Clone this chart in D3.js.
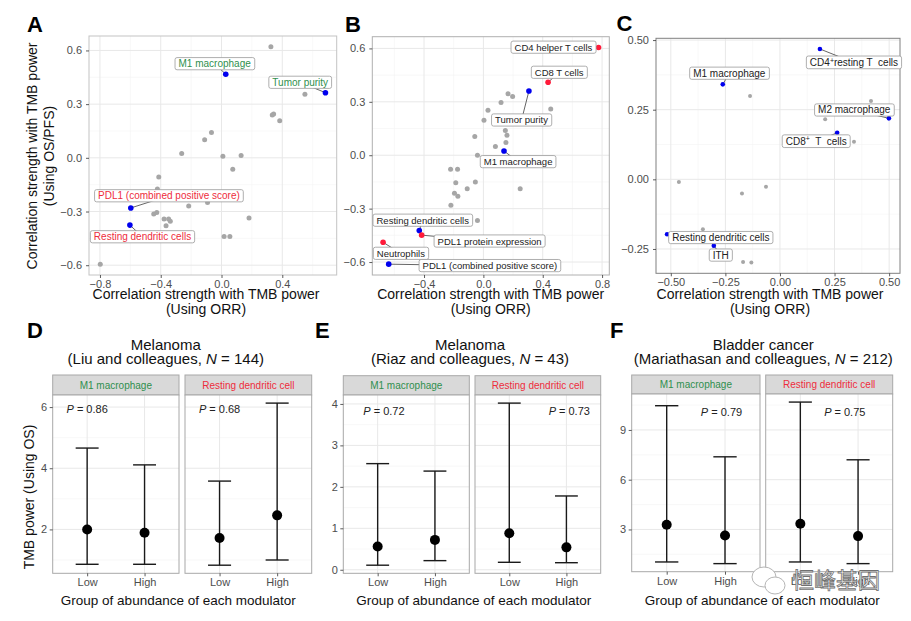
<!DOCTYPE html>
<html><head><meta charset="utf-8">
<script src="https://cdn.jsdelivr.net/npm/d3@7"></script>
<style>
body{margin:0;background:#fff;}
svg text{white-space:pre;}
</style></head><body>
<svg id="fig" width="911" height="621"></svg>
<script>
// ================= DATA =================
// Panel A: correlation (ORR vs OS/PFS)
const aNames = ["", "M1 macrophage", "Tumor purity", "", "", "", "", "", "", "", "", "", "", "", "",
  "PDL1 (combined positive score)", "", "", "", "", "", "", "", "", "Resting dendritic cells", "", "", "", ""];
const aX = [0.325, 0.028, 0.684, 0.549, 0.334, 0.343, 0.383, -0.066, -0.111, -0.262, 0.009, 0.129, 0.074, -0.413, -0.422,
  -0.597, -0.216, -0.092, -0.446, -0.426, -0.378, -0.348, -0.337, -0.365, -0.603, 0.181, 0.017, 0.055, -0.798];
const aY = [0.620, 0.467, 0.364, 0.355, 0.239, 0.245, 0.207, 0.142, 0.101, 0.024, 0.009, 0.013, -0.064, -0.107, -0.174,
  -0.280, -0.269, -0.250, -0.314, -0.305, -0.342, -0.342, -0.355, -0.379, -0.376, -0.336, -0.439, -0.439, -0.594];
const aGroup = aNames.map(n => n ? "blue" : "grey");
const aXTicks = [-0.8, -0.4, 0.0, 0.4];
const aYTicks = [-0.6, -0.3, 0.0, 0.3, 0.6];

// Panel B
const bNames = ["CD4 helper T cells", "CD8 T cells", "Tumor purity", "", "", "", "", "", "", "", "", "", "", "",
  "M1 macrophage", "", "", "", "", "", "", "", "", "", "", "",
  "Resting dendritic cells", "PDL1 protein expression", "Neutrophils", "PDL1 (combined positive score)"];
const bX = [0.776, 0.436, 0.307, 0.166, 0.197, 0.119, 0.031, 0.454, 0.004, 0.148, 0.159, -0.058, 0.152, 0.081,
  0.139, -0.040, -0.221, -0.174, -0.186, -0.054, -0.109, -0.195, -0.172, 0.248, -0.219, -0.040,
  -0.432, -0.416, -0.676, -0.638];
const bY = [0.605, 0.410, 0.361, 0.345, 0.330, 0.296, 0.253, 0.260, 0.197, 0.139, 0.112, 0.105, 0.071, 0.049,
  0.024, 0.000, -0.079, -0.079, -0.154, -0.150, -0.189, -0.213, -0.230, -0.189, -0.281, -0.367,
  -0.423, -0.449, -0.489, -0.612];
const bGroup = ["red", "red", "blue", "grey", "grey", "grey", "grey", "grey", "grey", "grey", "grey", "grey", "grey", "grey",
  "blue", "grey", "grey", "grey", "grey", "grey", "grey", "grey", "grey", "grey", "grey", "grey",
  "blue", "red", "red", "blue"];
const bXTicks = [-0.4, 0.0, 0.4, 0.8];
const bYTicks = [-0.6, -0.3, 0.0, 0.3, 0.6];

// Panel C
const cNames = ["CD4⁺resting T  cells", "M1 macrophage", "", "", "M2 macrophage", "", "CD8⁺  T  cells", "", "", "", "", "",
  "Resting dendritic cells", "ITH", "", ""];
const cX = [0.183, -0.262, -0.137, 0.417, 0.499, 0.207, 0.262, 0.339, -0.463, -0.174, -0.064, -0.353, -0.517, -0.303, -0.169, -0.131];
const cY = [0.468, 0.341, 0.299, 0.281, 0.219, 0.216, 0.167, 0.135, -0.010, -0.051, -0.027, -0.179, -0.197, -0.238, -0.297, -0.299];
const cGroup = cNames.map(n => n ? "blue" : "grey");
const cXTicks = [-0.50, -0.25, 0.00, 0.25, 0.50];
const cYTicks = [-0.25, 0.00, 0.25, 0.50];

// Bottom panels
const groups = ["Low", "High"];
const facetNames = ["M1 macrophage", "Resting dendritic cell"];

const dTitle = ["Melanoma", "(Liu and colleagues, N = 144)"];
const dM1Mid = [2.00, 1.89], dM1Lo = [0.86, 0.86], dM1Hi = [4.66, 4.11];
const dRdMid = [1.72, 2.46], dRdLo = [0.83, 1.00], dRdHi = [3.58, 6.13];
const dP = ["0.86", "0.68"];
const dYTicks = [2, 4, 6];

const eTitle = ["Melanoma", "(Riaz and colleagues, N = 43)"];
const eM1Mid = [0.56, 0.72], eM1Lo = [0.11, 0.22], eM1Hi = [2.56, 2.38];
const eRdMid = [0.88, 0.54], eRdLo = [0.18, 0.17], eRdHi = [4.02, 1.78];
const eP = ["0.72", "0.73"];
const eYTicks = [0, 1, 2, 3, 4];

const fTitle = ["Bladder cancer", "(Mariathasan and colleagues, N = 212)"];
const fM1Mid = [3.28, 2.64], fM1Lo = [1.04, 0.94], fM1Hi = [10.46, 7.38];
const fRdMid = [3.34, 2.60], fRdLo = [1.04, 0.94], fRdHi = [10.68, 7.20];
const fP = ["0.79", "0.75"];
const fYTicks = [3, 6, 9];

// ================= LAYOUT / STYLE =================
const FONT = '"Liberation Sans", Arial, Helvetica, sans-serif';
const GREEN = "#2f8f4e", RED = "#ee2c3c";
const ptColor = {grey: "#a6a6a6", blue: "#0000ee", red: "#ff1a3a"};
const facetColor = [GREEN, RED];

// label anchor positions in data units (like ggrepel output)
const aLabelPos = {"M1 macrophage": [-0.045, 0.526], "Tumor purity": [0.518, 0.422],
  "PDL1 (combined positive score)": [-0.346, -0.212], "Resting dendritic cells": [-0.52, -0.441]};
const aLabelColor = {"M1 macrophage": GREEN, "Tumor purity": GREEN,
  "PDL1 (combined positive score)": RED, "Resting dendritic cells": RED};
const bLabelPos = {"CD4 helper T cells": [0.472, 0.606], "CD8 T cells": [0.511, 0.465], "Tumor purity": [0.257, 0.197],
  "M1 macrophage": [0.234, -0.037], "Resting dendritic cells": [-0.409, -0.366], "PDL1 protein expression": [0.042, -0.483],
  "Neutrophils": [-0.556, -0.552], "PDL1 (combined positive score)": [0.044, -0.621]};
const cLabelPos = {"CD4⁺resting T  cells": [0.339, 0.419], "M1 macrophage": [-0.232, 0.381], "M2 macrophage": [0.340, 0.249],
  "CD8⁺  T  cells": [0.166, 0.136], "Resting dendritic cells": [-0.271, -0.209], "ITH": [-0.271, -0.272]};

// P-value annotation anchors (x in category index units 1..2, y data)
const dPPos = [[1.0, 5.92], [1.0, 5.92]];
const ePPos = [[1.11, 3.82], [2.05, 3.82]];
const fPPos = [[1.94, 10.1], [1.77, 10.1]];

const svg = d3.select("#fig").style("font-family", FONT);

function expand(vals, m = 0.05) { const [a, b] = d3.extent(vals); const s = b - a; return [a - s * m, b + s * m]; }
function minorTicks(t, dom) {
  const step = t[1] - t[0], out = [];
  for (let i = -1; i <= t.length; i++) { const v = t[0] + step * i + step / 2; if (v > dom[0] && v < dom[1]) out.push(v); }
  return out;
}
function styleAxis(ax) {
  ax.select(".domain").remove();
  ax.attr("font-family", FONT).attr("font-size", 11);
  ax.selectAll("line").attr("stroke", "#333").attr("stroke-width", 0.8);
  ax.selectAll("text").attr("fill", "#4d4d4d");
}
function addRich(textSel, str, fs) {
  // handle superscript "⁺" and italic "N"/"P"
  const parts = str.split("⁺");
  parts.forEach((p, i) => {
    if (i > 0) { textSel.append("tspan").attr("dy", -fs * 0.35).attr("font-size", fs * 0.7).text("+");
      textSel.append("tspan").attr("dy", fs * 0.35).text(p); }
    else textSel.append("tspan").text(p);
  });
}

function scatterPanel(p) {
  const {x0, x1, y0, y1} = p.box;
  const g = svg.append("g");
  const xd = expand(p.x), yd = expand(p.y);
  const x = d3.scaleLinear().domain(xd).range([x0, x1]);
  const y = d3.scaleLinear().domain(yd).range([y1, y0]);
  g.append("rect").attr("x", x0).attr("y", y0).attr("width", x1 - x0).attr("height", y1 - y0).attr("fill", "#fff");
  minorTicks(p.xTicks, xd).forEach(v => g.append("line").attr("x1", x(v)).attr("x2", x(v)).attr("y1", y0).attr("y2", y1).attr("stroke", "#f3f3f3").attr("stroke-width", 0.6));
  minorTicks(p.yTicks, yd).forEach(v => g.append("line").attr("y1", y(v)).attr("y2", y(v)).attr("x1", x0).attr("x2", x1).attr("stroke", "#f3f3f3").attr("stroke-width", 0.6));
  p.xTicks.forEach(v => g.append("line").attr("x1", x(v)).attr("x2", x(v)).attr("y1", y0).attr("y2", y1).attr("stroke", "#e8e8e8").attr("stroke-width", 1));
  p.yTicks.forEach(v => g.append("line").attr("y1", y(v)).attr("y2", y(v)).attr("x1", x0).attr("x2", x1).attr("stroke", "#e8e8e8").attr("stroke-width", 1));
  g.append("rect").attr("x", x0).attr("y", y0).attr("width", x1 - x0).attr("height", y1 - y0)
    .attr("fill", "none").attr("stroke", p.border).attr("stroke-width", 1);
  const axb = g.append("g").attr("transform", `translate(0,${y1})`)
    .call(d3.axisBottom(x).tickValues(p.xTicks).tickFormat(d3.format(p.fmt)).tickSize(3).tickPadding(2.2));
  styleAxis(axb);
  const axl = g.append("g").attr("transform", `translate(${x0},0)`)
    .call(d3.axisLeft(y).tickValues(p.yTicks).tickFormat(d3.format(p.fmt)).tickSize(3).tickPadding(4));
  styleAxis(axl);

  const segG = g.append("g"), ptG = g.append("g"), boxG = g.append("g"), txtG = g.append("g");
  const idx = d3.range(p.x.length);
  // grey first, then highlighted
  idx.sort((a, b) => (p.group[a] === "grey" ? 0 : 1) - (p.group[b] === "grey" ? 0 : 1));
  idx.forEach(i => {
    ptG.append("circle").attr("cx", x(p.x[i])).attr("cy", y(p.y[i]))
      .attr("r", p.group[i] === "grey" ? p.r : p.r + 0.3).attr("fill", ptColor[p.group[i]]);
  });
  idx.filter(i => p.names[i]).forEach(i => {
    const name = p.names[i];
    const [lx, ly] = p.labelPos[name];
    const cx = x(lx), cy = y(ly);
    const t = txtG.append("text").attr("x", cx).attr("y", cy).attr("dy", "0.35em").attr("text-anchor", "middle")
      .attr("font-size", p.fs).attr("fill", p.labelColor ? p.labelColor[name] : "#222");
    addRich(t, name, p.fs);
    const bb = t.node().getBBox();
    const padX = 3.5, padY = 0.6;
    boxG.append("rect").attr("x", bb.x - padX).attr("y", bb.y - padY).attr("width", bb.width + 2 * padX).attr("height", bb.height + 2 * padY)
      .attr("rx", 2).attr("fill", "#fff").attr("stroke", "#9a9a9a").attr("stroke-width", 0.8);
    segG.append("line").attr("x1", x(p.x[i])).attr("y1", y(p.y[i])).attr("x2", cx).attr("y2", cy)
      .attr("stroke", "#222").attr("stroke-width", 0.7);
  });
}

scatterPanel({box: {x0: 89, x1: 336.7, y0: 36, y1: 275}, x: aX, y: aY, names: aNames, group: aGroup,
  xTicks: aXTicks, yTicks: aYTicks, fmt: ".1f", labelPos: aLabelPos, labelColor: aLabelColor, fs: 10, r: 2.5, border: "#c4c4c4"});
scatterPanel({box: {x0: 372.3, x1: 609.3, y0: 36.7, y1: 275}, x: bX, y: bY, names: bNames, group: bGroup,
  xTicks: bXTicks, yTicks: bYTicks, fmt: ".1f", labelPos: bLabelPos, labelColor: null, fs: 9.5, r: 2.5, border: "#b0b0b0"});
scatterPanel({box: {x0: 656, x1: 900, y0: 38.3, y1: 273.3}, x: cX, y: cY, names: cNames, group: cGroup,
  xTicks: cXTicks, yTicks: cYTicks, fmt: ".2f", labelPos: cLabelPos, labelColor: null, fs: 10, r: 2, border: "#808080"});

// scatter axis titles
function txt(x, y, s, fs, opts = {}) {
  const t = svg.append("text").attr("x", x).attr("y", y).attr("font-size", fs).attr("fill", opts.fill || "#111")
    .attr("text-anchor", opts.anchor || "middle");
  if (opts.weight) t.attr("font-weight", opts.weight);
  if (opts.rotate) t.attr("transform", `rotate(-90,${x},${y})`);
  return t;
}
[[206, "A"], [490.7, "B"], [770, "C"]].forEach(([cx]) => {
  txt(cx, 298.5, 0, 14).text("Correlation strength with TMB power");
  txt(cx, 313.5, 0, 14).text("(Using ORR)");
});
txt(36.5, 156, 0, 14, {rotate: true}).text("Correlation strength with TMB power");
txt(54, 156, 0, 14, {rotate: true}).text("(Using OS/PFS)");

// panel letters
[["A", 27, 31.5], ["B", 345, 31.5], ["C", 616.5, 31], ["D", 27, 338], ["E", 315, 338], ["F", 610, 338]].forEach(([l, x, y]) =>
  txt(x, y, 0, 22, {anchor: "start", weight: "bold", fill: "#000"}).text(l));

// ================= bottom facet panels =================
function italicN(t, s) {
  const k = s.indexOf("N =");
  if (k < 0) { t.text(s); return; }
  t.append("tspan").text(s.slice(0, k));
  t.append("tspan").attr("font-style", "italic").text("N");
  t.append("tspan").text(s.slice(k + 1));
}
function facetPanel(p) {
  const all = [].concat(...p.facets.map(f => f.lo), ...p.facets.map(f => f.hi));
  const yd = expand(all);
  const y = d3.scaleLinear().domain(yd).range([p.y1, p.y0]);
  p.facets.forEach((f, i) => {
    const [fx0, fx1] = p.fx[i];
    const g = svg.append("g");
    const x = d3.scalePoint().domain(groups).range([fx0, fx1]).padding(0.6);
    const step = x.step();
    // strip
    g.append("rect").attr("x", fx0).attr("y", p.sy0).attr("width", fx1 - fx0).attr("height", p.y0 - p.sy0)
      .attr("fill", "#d9d9d9").attr("stroke", "#a8a8a8").attr("stroke-width", 1);
    g.append("text").attr("x", (fx0 + fx1) / 2).attr("y", (p.sy0 + p.y0) / 2 + 3.5).attr("text-anchor", "middle")
      .attr("font-size", 10).attr("fill", facetColor[i]).text(facetNames[i]);
    // panel
    g.append("rect").attr("x", fx0).attr("y", p.y0).attr("width", fx1 - fx0).attr("height", p.y1 - p.y0).attr("fill", "#fff");
    minorTicks(p.yTicks, yd).forEach(v => g.append("line").attr("x1", fx0).attr("x2", fx1).attr("y1", y(v)).attr("y2", y(v)).attr("stroke", "#f3f3f3").attr("stroke-width", 0.6));
    p.yTicks.forEach(v => g.append("line").attr("x1", fx0).attr("x2", fx1).attr("y1", y(v)).attr("y2", y(v)).attr("stroke", "#e8e8e8").attr("stroke-width", 1));
    groups.forEach(c => g.append("line").attr("x1", x(c)).attr("x2", x(c)).attr("y1", p.y0).attr("y2", p.y1).attr("stroke", "#e8e8e8").attr("stroke-width", 1));
    g.append("rect").attr("x", fx0).attr("y", p.y0).attr("width", fx1 - fx0).attr("height", p.y1 - p.y0)
      .attr("fill", "none").attr("stroke", "#a8a8a8").attr("stroke-width", 1);
    // error bars
    groups.forEach((c, j) => {
      const cx = x(c), hw = step * 0.2;
      g.append("line").attr("x1", cx).attr("x2", cx).attr("y1", y(f.lo[j])).attr("y2", y(f.hi[j])).attr("stroke", "#1a1a1a").attr("stroke-width", 1.4);
      [f.lo[j], f.hi[j]].forEach(v => g.append("line").attr("x1", cx - hw).attr("x2", cx + hw).attr("y1", y(v)).attr("y2", y(v)).attr("stroke", "#1a1a1a").attr("stroke-width", 1.4));
      g.append("circle").attr("cx", cx).attr("cy", y(f.mid[j])).attr("r", 5).attr("fill", "#000");
    });
    // P annotation
    const [pxi, pyv] = p.pPos[i];
    const pt = g.append("text").attr("x", x("Low") + (pxi - 1) * step).attr("y", y(pyv)).attr("dy", "0.35em")
      .attr("text-anchor", "middle").attr("font-size", 11).attr("fill", "#222");
    pt.append("tspan").attr("font-style", "italic").text("P");
    pt.append("tspan").text(" = " + p.pv[i]);
    // axes
    const axb = g.append("g").attr("transform", `translate(0,${p.y1})`)
      .call(d3.axisBottom(x).tickSize(3).tickPadding(2.2));
    styleAxis(axb);
    if (i === 0) {
      const axl = g.append("g").attr("transform", `translate(${fx0},0)`)
        .call(d3.axisLeft(y).tickValues(p.yTicks).tickFormat(d3.format("d")).tickSize(3).tickPadding(2.5));
      styleAxis(axl);
    }
  });
  txt(p.tx, p.ty1, 0, 15).text(p.title[0]);
  italicN(txt(p.tx, p.ty2, 0, 15), p.title[1]);
  txt(p.xtx, 605, 0, 13.5).text("Group of abundance of each modulator");
}

facetPanel({title: dTitle, tx: 165.8, ty1: 350, ty2: 364, xtx: 178.3, sy0: 375, y0: 395, y1: 573.3,
  fx: [[52.7, 179], [185, 311.7]], yTicks: dYTicks, pv: dP, pPos: dPPos,
  facets: [{mid: dM1Mid, lo: dM1Lo, hi: dM1Hi}, {mid: dRdMid, lo: dRdLo, hi: dRdHi}]});
facetPanel({title: eTitle, tx: 470, ty1: 350, ty2: 364, xtx: 473.8, sy0: 375.7, y0: 395, y1: 573.3,
  fx: [[343.3, 469.3], [475, 600.7]], yTicks: eYTicks, pv: eP, pPos: ePPos,
  facets: [{mid: eM1Mid, lo: eM1Lo, hi: eM1Hi}, {mid: eRdMid, lo: eRdLo, hi: eRdHi}]});
facetPanel({title: fTitle, tx: 763.3, ty1: 350, ty2: 364, xtx: 762.2, sy0: 375, y0: 394, y1: 571.7,
  fx: [[631.7, 760], [765.7, 892.7]], yTicks: fYTicks, pv: fP, pPos: fPPos,
  facets: [{mid: fM1Mid, lo: fM1Lo, hi: fM1Hi}, {mid: fRdMid, lo: fRdLo, hi: fRdHi}]});

txt(34, 497, 0, 14, {rotate: true}).text("TMB power (Using OS)");

// watermark
const wm = svg.append("g");
wm.append("ellipse").attr("cx", 764).attr("cy", 577).attr("rx", 12).attr("ry", 10).attr("fill", "#fff").attr("stroke", "#b5b5b5").attr("stroke-width", 1);
wm.append("ellipse").attr("cx", 775).attr("cy", 585.5).attr("rx", 10).attr("ry", 8.5).attr("fill", "#fff").attr("stroke", "#b5b5b5").attr("stroke-width", 1);
wm.append("text").attr("x", 792).attr("y", 588).attr("font-size", 22).attr("font-family", '"Noto Sans CJK SC", sans-serif')
  .attr("fill", "#fff").attr("stroke", "#707070").attr("stroke-width", 0.8).text("恒峰基因");
</script>
</body></html>
